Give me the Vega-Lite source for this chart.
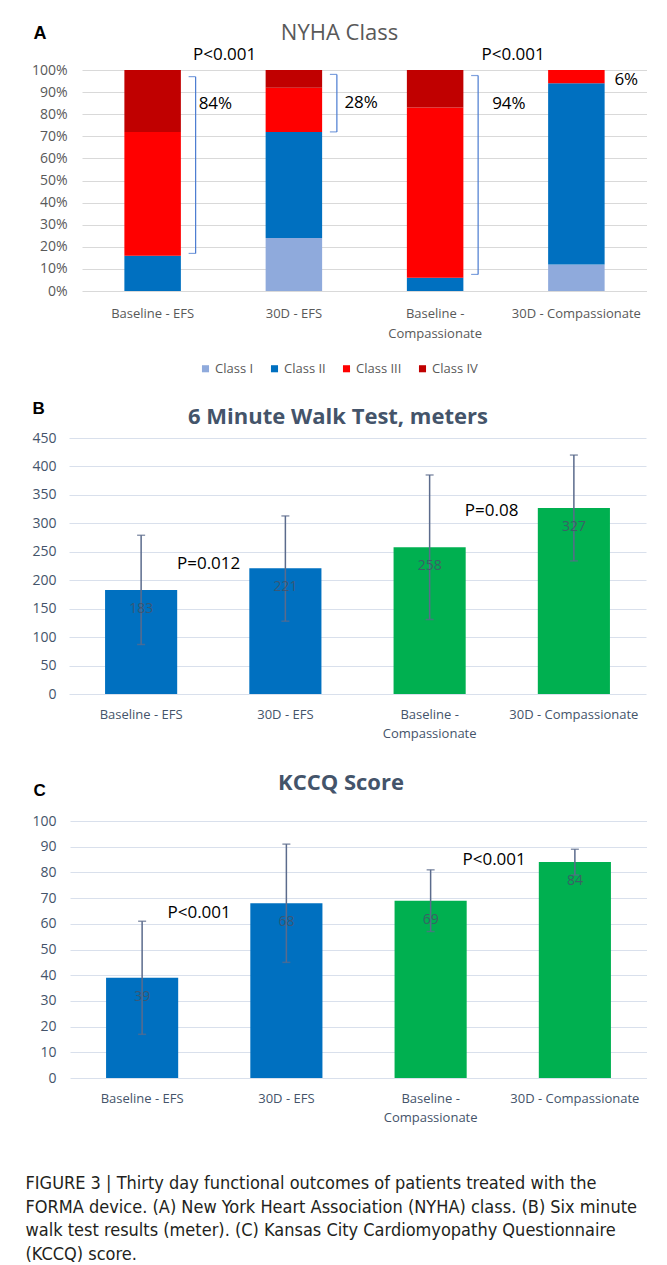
{
  "$schema": "https://vega.github.io/schema/vega-lite/v6.json",
  "background": "white",
  "padding": {"left": 25, "top": 22, "right": 0, "bottom": 0},
  "config": {
    "view": {"stroke": null},
    "font": "Open Sans",
    "axis": {
      "labelFont": "Open Sans",
      "labelColor": "#595959",
      "labelFontSize": 13,
      "ticks": false,
      "domain": false,
      "gridColor": "#D9D9D9",
      "titleFont": "Liberation Sans",
      "titleFontWeight": "bold",
      "titleColor": "#000000",
      "titleFontSize": 18,
      "titleAngle": 0,
      "titleAlign": "left",
      "titleBaseline": "middle"
    },
    "legend": {"layout": {"bottom": {"anchor": "middle"}}},
    "title": {"font": "Open Sans", "fontSize": 22, "fontWeight": "normal", "color": "#595959", "anchor": "middle"}
  },
  "resolve": {"scale": {"color": "independent"}, "legend": {"color": "independent"}},
  "datasets": {
    "nyha": [
      {"cat": "Baseline - EFS", "cls": "Class I", "k": 1, "pct": 0},
      {"cat": "Baseline - EFS", "cls": "Class II", "k": 2, "pct": 16},
      {"cat": "Baseline - EFS", "cls": "Class III", "k": 3, "pct": 56},
      {"cat": "Baseline - EFS", "cls": "Class IV", "k": 4, "pct": 28},
      {"cat": "30D - EFS", "cls": "Class I", "k": 1, "pct": 24},
      {"cat": "30D - EFS", "cls": "Class II", "k": 2, "pct": 48},
      {"cat": "30D - EFS", "cls": "Class III", "k": 3, "pct": 20},
      {"cat": "30D - EFS", "cls": "Class IV", "k": 4, "pct": 8},
      {"cat": "Baseline - Compassionate", "cls": "Class I", "k": 1, "pct": 0},
      {"cat": "Baseline - Compassionate", "cls": "Class II", "k": 2, "pct": 6},
      {"cat": "Baseline - Compassionate", "cls": "Class III", "k": 3, "pct": 77},
      {"cat": "Baseline - Compassionate", "cls": "Class IV", "k": 4, "pct": 17},
      {"cat": "30D - Compassionate", "cls": "Class I", "k": 1, "pct": 12},
      {"cat": "30D - Compassionate", "cls": "Class II", "k": 2, "pct": 82},
      {"cat": "30D - Compassionate", "cls": "Class III", "k": 3, "pct": 6},
      {"cat": "30D - Compassionate", "cls": "Class IV", "k": 4, "pct": 0}
    ],
    "brackets": [
      {"cat": "Baseline - EFS", "lo": 17, "hi": 97},
      {"cat": "30D - EFS", "lo": 72, "hi": 98},
      {"cat": "Baseline - Compassionate", "lo": 7.5, "hi": 97.5}
    ],
    "pctLabels": [
      {"cat": "Baseline - EFS", "y": 84.5, "label": "84%"},
      {"cat": "30D - EFS", "y": 85, "label": "28%"},
      {"cat": "Baseline - Compassionate", "y": 84.5, "label": "94%"},
      {"cat": "30D - Compassionate", "y": 95.5, "label": "6%"}
    ],
    "pA": [
      {"cat": "Baseline - EFS", "y": 107, "label": "P<0.001"},
      {"cat": "Baseline - Compassionate", "y": 107, "label": "P<0.001"}
    ],
    "walk": [
      {"cat": "Baseline - EFS", "grp": "EFS", "val": 183, "lo": 87, "hi": 279},
      {"cat": "30D - EFS", "grp": "EFS", "val": 221, "lo": 128, "hi": 313},
      {"cat": "Baseline - Compassionate", "grp": "Compassionate", "val": 258, "lo": 131, "hi": 385},
      {"cat": "30D - Compassionate", "grp": "Compassionate", "val": 327, "lo": 234, "hi": 420}
    ],
    "pB": [
      {"cat": "Baseline - EFS", "y": 228.5, "label": "P=0.012"},
      {"cat": "Baseline - Compassionate", "y": 321.7, "label": "P=0.08"}
    ],
    "kccq": [
      {"cat": "Baseline - EFS", "grp": "EFS", "val": 39, "lo": 17, "hi": 61},
      {"cat": "30D - EFS", "grp": "EFS", "val": 68, "lo": 45, "hi": 91},
      {"cat": "Baseline - Compassionate", "grp": "Compassionate", "val": 69, "lo": 57, "hi": 81},
      {"cat": "30D - Compassionate", "grp": "Compassionate", "val": 84, "lo": 79, "hi": 89}
    ],
    "pC": [
      {"cat": "Baseline - EFS", "y": 64.2, "label": "P<0.001"},
      {"cat": "Baseline - Compassionate", "y": 84.8, "label": "P<0.001"}
    ],
    "spacer": [{"s": ""}]
  },
  "title": {
    "text": [
      "FIGURE 3 | Thirty day functional outcomes of patients treated with the",
      "FORMA device. (A) New York Heart Association (NYHA) class. (B) Six minute",
      "walk test results (meter). (C) Kansas City Cardiomyopathy Questionnaire",
      "(KCCQ) score."
    ],
    "orient": "bottom",
    "anchor": "start",
    "frame": "bounds",
    "font": "DejaVu Sans Condensed, Roboto",
    "fontSize": 18,
    "fontWeight": "normal",
    "color": "#231F20",
    "lineHeight": 23.7,
    "offset": 51,
    "dx": -4.5
  },
  "spacing": 23,
  "vconcat": [
    {
      "spacing": 0,
      "hconcat": [
        {"width": 1, "height": 1, "data": {"name": "spacer"}, "mark": {"type": "text"}, "encoding": {"text": {"field": "s"}}},
        {
          "width": 565,
          "height": 221,
          "title": {"text": "NYHA Class", "dx": -25, "offset": -21},
          "layer": [
            {
              "data": {"name": "nyha"},
              "mark": {"type": "bar"},
              "encoding": {
                "x": {"field": "cat", "type": "nominal", "sort": null,
                  "scale": {"domain": ["Baseline - EFS", "30D - EFS", "Baseline - Compassionate", "30D - Compassionate"], "paddingInner": 0.6, "paddingOuter": 0.3},
                  "axis": {"title": null, "labelAngle": 0, "labelPadding": 16, "labelLineHeight": 20, "labelFontSize": 13, "labelExpr": "datum.value == 'Baseline - Compassionate' ? ['Baseline -', 'Compassionate'] : datum.value"}},
                "y": {"field": "pct", "type": "quantitative", "stack": "zero",
                  "scale": {"domain": [0, 100]},
                  "axis": {"title": "A", "titleX": -49, "titleY": -37, "values": [0, 10, 20, 30, 40, 50, 60, 70, 80, 90, 100], "labelExpr": "datum.value + '%'", "labelFontSize": 14, "labelPadding": 15, "gridColor": "#D9D9D9"}},
                "color": {"field": "cls", "type": "nominal",
                  "scale": {"domain": ["Class I", "Class II", "Class III", "Class IV"], "range": ["#8FAADC", "#0070C0", "#FF0000", "#C00000"]},
                  "legend": {"title": null, "orient": "bottom", "direction": "horizontal", "offset": 22, "symbolType": "square", "symbolSize": 50, "symbolStrokeWidth": 0, "labelFont": "Open Sans", "labelFontSize": 13, "labelColor": "#595959", "labelOffset": 3, "columnPadding": 14}},
                "order": {"field": "k", "type": "quantitative"}
              }
            },
            {
              "data": {"name": "brackets"},
              "mark": {"type": "rule", "color": "#4A7BD0", "strokeWidth": 1.2, "xOffset": 43},
              "encoding": {
                "x": {"field": "cat", "type": "nominal", "sort": null, "scale": {"domain": ["Baseline - EFS", "30D - EFS", "Baseline - Compassionate", "30D - Compassionate"]}},
                "y": {"field": "lo", "type": "quantitative", "axis": {"title": "A", "titleX": -49, "titleY": -37, "values": [0, 10, 20, 30, 40, 50, 60, 70, 80, 90, 100], "labelExpr": "datum.value + '%'", "labelFontSize": 14, "labelPadding": 15, "gridColor": "#D9D9D9"}},
                "y2": {"field": "hi"}
              }
            },
            {
              "data": {"name": "brackets"},
              "mark": {"type": "tick", "color": "#4A7BD0", "thickness": 1.2, "size": 7, "xOffset": 39.5},
              "encoding": {
                "x": {"field": "cat", "type": "nominal", "sort": null, "scale": {"domain": ["Baseline - EFS", "30D - EFS", "Baseline - Compassionate", "30D - Compassionate"]}},
                "y": {"field": "lo", "type": "quantitative", "axis": {"title": "A", "titleX": -49, "titleY": -37, "values": [0, 10, 20, 30, 40, 50, 60, 70, 80, 90, 100], "labelExpr": "datum.value + '%'", "labelFontSize": 14, "labelPadding": 15, "gridColor": "#D9D9D9"}}
              }
            },
            {
              "data": {"name": "brackets"},
              "mark": {"type": "tick", "color": "#4A7BD0", "thickness": 1.2, "size": 7, "xOffset": 39.5},
              "encoding": {
                "x": {"field": "cat", "type": "nominal", "sort": null, "scale": {"domain": ["Baseline - EFS", "30D - EFS", "Baseline - Compassionate", "30D - Compassionate"]}},
                "y": {"field": "hi", "type": "quantitative", "axis": {"title": "A", "titleX": -49, "titleY": -37, "values": [0, 10, 20, 30, 40, 50, 60, 70, 80, 90, 100], "labelExpr": "datum.value + '%'", "labelFontSize": 14, "labelPadding": 15, "gridColor": "#D9D9D9"}}
              }
            },
            {
              "data": {"name": "pctLabels"},
              "transform": [{"filter": "datum.label == '84%'"}],
              "mark": {"type": "text", "align": "left", "baseline": "middle", "dx": 46, "font": "Open Sans", "fontSize": 17, "color": "#000000"},
              "encoding": {
                "x": {"field": "cat", "type": "nominal", "sort": null, "scale": {"domain": ["Baseline - EFS", "30D - EFS", "Baseline - Compassionate", "30D - Compassionate"]}},
                "y": {"field": "y", "type": "quantitative", "axis": {"title": "A", "titleX": -49, "titleY": -37, "values": [0, 10, 20, 30, 40, 50, 60, 70, 80, 90, 100], "labelExpr": "datum.value + '%'", "labelFontSize": 14, "labelPadding": 15, "gridColor": "#D9D9D9"}},
                "text": {"field": "label"}
              }
            },
            {
              "data": {"name": "pctLabels"},
              "transform": [{"filter": "datum.label == '28%'"}],
              "mark": {"type": "text", "align": "left", "baseline": "middle", "dx": 50.5, "font": "Open Sans", "fontSize": 17, "color": "#000000"},
              "encoding": {
                "x": {"field": "cat", "type": "nominal", "sort": null, "scale": {"domain": ["Baseline - EFS", "30D - EFS", "Baseline - Compassionate", "30D - Compassionate"]}},
                "y": {"field": "y", "type": "quantitative", "axis": {"title": "A", "titleX": -49, "titleY": -37, "values": [0, 10, 20, 30, 40, 50, 60, 70, 80, 90, 100], "labelExpr": "datum.value + '%'", "labelFontSize": 14, "labelPadding": 15, "gridColor": "#D9D9D9"}},
                "text": {"field": "label"}
              }
            },
            {
              "data": {"name": "pctLabels"},
              "transform": [{"filter": "datum.label == '94%'"}],
              "mark": {"type": "text", "align": "left", "baseline": "middle", "dx": 57, "font": "Open Sans", "fontSize": 17, "color": "#000000"},
              "encoding": {
                "x": {"field": "cat", "type": "nominal", "sort": null, "scale": {"domain": ["Baseline - EFS", "30D - EFS", "Baseline - Compassionate", "30D - Compassionate"]}},
                "y": {"field": "y", "type": "quantitative", "axis": {"title": "A", "titleX": -49, "titleY": -37, "values": [0, 10, 20, 30, 40, 50, 60, 70, 80, 90, 100], "labelExpr": "datum.value + '%'", "labelFontSize": 14, "labelPadding": 15, "gridColor": "#D9D9D9"}},
                "text": {"field": "label"}
              }
            },
            {
              "data": {"name": "pctLabels"},
              "transform": [{"filter": "datum.label == '6%'"}],
              "mark": {"type": "text", "align": "left", "baseline": "middle", "dx": 38, "font": "Open Sans", "fontSize": 17, "color": "#000000"},
              "encoding": {
                "x": {"field": "cat", "type": "nominal", "sort": null, "scale": {"domain": ["Baseline - EFS", "30D - EFS", "Baseline - Compassionate", "30D - Compassionate"]}},
                "y": {"field": "y", "type": "quantitative", "axis": {"title": "A", "titleX": -49, "titleY": -37, "values": [0, 10, 20, 30, 40, 50, 60, 70, 80, 90, 100], "labelExpr": "datum.value + '%'", "labelFontSize": 14, "labelPadding": 15, "gridColor": "#D9D9D9"}},
                "text": {"field": "label"}
              }
            },
            {
              "data": {"name": "pA"},
              "transform": [{"filter": "datum.cat == 'Baseline - EFS'"}],
              "mark": {"type": "text", "align": "center", "baseline": "middle", "dx": 72, "font": "Open Sans", "fontSize": 17, "color": "#000000", "clip": false},
              "encoding": {
                "x": {"field": "cat", "type": "nominal", "sort": null, "scale": {"domain": ["Baseline - EFS", "30D - EFS", "Baseline - Compassionate", "30D - Compassionate"]}},
                "y": {"field": "y", "type": "quantitative", "axis": {"title": "A", "titleX": -49, "titleY": -37, "values": [0, 10, 20, 30, 40, 50, 60, 70, 80, 90, 100], "labelExpr": "datum.value + '%'", "labelFontSize": 14, "labelPadding": 15, "gridColor": "#D9D9D9"}},
                "text": {"field": "label"}
              }
            },
            {
              "data": {"name": "pA"},
              "transform": [{"filter": "datum.cat == 'Baseline - Compassionate'"}],
              "mark": {"type": "text", "align": "center", "baseline": "middle", "dx": 78, "font": "Open Sans", "fontSize": 17, "color": "#000000", "clip": false},
              "encoding": {
                "x": {"field": "cat", "type": "nominal", "sort": null, "scale": {"domain": ["Baseline - EFS", "30D - EFS", "Baseline - Compassionate", "30D - Compassionate"]}},
                "y": {"field": "y", "type": "quantitative", "axis": {"title": "A", "titleX": -49, "titleY": -37, "values": [0, 10, 20, 30, 40, 50, 60, 70, 80, 90, 100], "labelExpr": "datum.value + '%'", "labelFontSize": 14, "labelPadding": 15, "gridColor": "#D9D9D9"}},
                "text": {"field": "label"}
              }
            }
          ]
        }
      ]
    },
    {
      "spacing": 0,
      "hconcat": [
        {"width": 1, "height": 1, "data": {"name": "spacer"}, "mark": {"type": "text"}, "encoding": {"text": {"field": "s"}}},
        {
          "width": 577,
          "height": 256,
          "title": {"text": "6 Minute Walk Test, meters", "dx": -19.5, "offset": -30, "fontWeight": "bold", "color": "#44546A", "fontSize": 22},
          "layer": [
            {
              "data": {"name": "walk"},
              "mark": {"type": "bar"},
              "encoding": {
                "x": {"field": "cat", "type": "nominal", "sort": null,
                  "scale": {"domain": ["Baseline - EFS", "30D - EFS", "Baseline - Compassionate", "30D - Compassionate"], "paddingInner": 0.5, "paddingOuter": 0.25},
                  "axis": {"title": " ", "titleFontSize": 4, "titlePadding": 7, "labelAngle": 0, "labelPadding": 14, "labelLineHeight": 19, "labelFontSize": 13, "labelColor": "#44546A", "labelExpr": "datum.value == 'Baseline - Compassionate' ? ['Baseline -', 'Compassionate'] : datum.value"}},
                "y": {"field": "val", "type": "quantitative",
                  "scale": {"domain": [0, 450]},
                  "axis": {"title": "B", "titleX": -37, "titleY": -30, "titleFontSize": 17, "values": [0, 50, 100, 150, 200, 250, 300, 350, 400, 450], "labelFontSize": 14, "labelPadding": 13, "labelColor": "#44546A", "gridColor": "#D9E0EC"}},
                "color": {"field": "grp", "type": "nominal", "scale": {"domain": ["EFS", "Compassionate"], "range": ["#0070C0", "#00B050"]}, "legend": null}
              }
            },
            {
              "data": {"name": "walk"},
              "mark": {"type": "rule", "color": "#5B6B8C", "strokeWidth": 1.5},
              "encoding": {
                "x": {"field": "cat", "type": "nominal", "sort": null, "scale": {"domain": ["Baseline - EFS", "30D - EFS", "Baseline - Compassionate", "30D - Compassionate"]}},
                "y": {"field": "lo", "type": "quantitative", "axis": {"title": "B", "titleX": -37, "titleY": -30, "titleFontSize": 17, "values": [0, 50, 100, 150, 200, 250, 300, 350, 400, 450], "labelFontSize": 14, "labelPadding": 13, "labelColor": "#44546A", "gridColor": "#D9E0EC"}},
                "y2": {"field": "hi"}
              }
            },
            {
              "data": {"name": "walk"},
              "mark": {"type": "tick", "color": "#5B6B8C", "thickness": 1.5, "size": 8},
              "encoding": {
                "x": {"field": "cat", "type": "nominal", "sort": null, "scale": {"domain": ["Baseline - EFS", "30D - EFS", "Baseline - Compassionate", "30D - Compassionate"]}},
                "y": {"field": "lo", "type": "quantitative", "axis": {"title": "B", "titleX": -37, "titleY": -30, "titleFontSize": 17, "values": [0, 50, 100, 150, 200, 250, 300, 350, 400, 450], "labelFontSize": 14, "labelPadding": 13, "labelColor": "#44546A", "gridColor": "#D9E0EC"}}
              }
            },
            {
              "data": {"name": "walk"},
              "mark": {"type": "tick", "color": "#5B6B8C", "thickness": 1.5, "size": 8},
              "encoding": {
                "x": {"field": "cat", "type": "nominal", "sort": null, "scale": {"domain": ["Baseline - EFS", "30D - EFS", "Baseline - Compassionate", "30D - Compassionate"]}},
                "y": {"field": "hi", "type": "quantitative", "axis": {"title": "B", "titleX": -37, "titleY": -30, "titleFontSize": 17, "values": [0, 50, 100, 150, 200, 250, 300, 350, 400, 450], "labelFontSize": 14, "labelPadding": 13, "labelColor": "#44546A", "gridColor": "#D9E0EC"}}
              }
            },
            {
              "data": {"name": "walk"},
              "mark": {"type": "text", "baseline": "middle", "dy": 19, "font": "Open Sans", "fontSize": 14, "color": "#44546A", "opacity": 0.85},
              "encoding": {
                "x": {"field": "cat", "type": "nominal", "sort": null, "scale": {"domain": ["Baseline - EFS", "30D - EFS", "Baseline - Compassionate", "30D - Compassionate"]}},
                "y": {"field": "val", "type": "quantitative", "axis": {"title": "B", "titleX": -37, "titleY": -30, "titleFontSize": 17, "values": [0, 50, 100, 150, 200, 250, 300, 350, 400, 450], "labelFontSize": 14, "labelPadding": 13, "labelColor": "#44546A", "gridColor": "#D9E0EC"}},
                "text": {"field": "val"}
              }
            },
            {
              "data": {"name": "pB"},
              "transform": [{"filter": "datum.cat == 'Baseline - EFS'"}],
              "mark": {"type": "text", "align": "center", "baseline": "middle", "dx": 67.5, "font": "Open Sans", "fontSize": 17, "color": "#000000"},
              "encoding": {
                "x": {"field": "cat", "type": "nominal", "sort": null, "scale": {"domain": ["Baseline - EFS", "30D - EFS", "Baseline - Compassionate", "30D - Compassionate"]}},
                "y": {"field": "y", "type": "quantitative", "axis": {"title": "B", "titleX": -37, "titleY": -30, "titleFontSize": 17, "values": [0, 50, 100, 150, 200, 250, 300, 350, 400, 450], "labelFontSize": 14, "labelPadding": 13, "labelColor": "#44546A", "gridColor": "#D9E0EC"}},
                "text": {"field": "label"}
              }
            },
            {
              "data": {"name": "pB"},
              "transform": [{"filter": "datum.cat == 'Baseline - Compassionate'"}],
              "mark": {"type": "text", "align": "center", "baseline": "middle", "dx": 62, "font": "Open Sans", "fontSize": 17, "color": "#000000"},
              "encoding": {
                "x": {"field": "cat", "type": "nominal", "sort": null, "scale": {"domain": ["Baseline - EFS", "30D - EFS", "Baseline - Compassionate", "30D - Compassionate"]}},
                "y": {"field": "y", "type": "quantitative", "axis": {"title": "B", "titleX": -37, "titleY": -30, "titleFontSize": 17, "values": [0, 50, 100, 150, 200, 250, 300, 350, 400, 450], "labelFontSize": 14, "labelPadding": 13, "labelColor": "#44546A", "gridColor": "#D9E0EC"}},
                "text": {"field": "label"}
              }
            }
          ]
        }
      ]
    },
    {
      "spacing": 0,
      "hconcat": [
        {"width": 1, "height": 1, "data": {"name": "spacer"}, "mark": {"type": "text"}, "encoding": {"text": {"field": "s"}}},
        {
          "width": 577,
          "height": 257,
          "title": {"text": "KCCQ Score", "dx": -17.5, "offset": -14, "fontWeight": "bold", "color": "#44546A", "fontSize": 22},
          "layer": [
            {
              "data": {"name": "kccq"},
              "mark": {"type": "bar"},
              "encoding": {
                "x": {"field": "cat", "type": "nominal", "sort": null,
                  "scale": {"domain": ["Baseline - EFS", "30D - EFS", "Baseline - Compassionate", "30D - Compassionate"], "paddingInner": 0.5, "paddingOuter": 0.25},
                  "axis": {"title": null, "labelAngle": 0, "labelPadding": 14, "labelLineHeight": 19, "labelFontSize": 13, "labelColor": "#44546A", "labelExpr": "datum.value == 'Baseline - Compassionate' ? ['Baseline -', 'Compassionate'] : datum.value"}},
                "y": {"field": "val", "type": "quantitative",
                  "scale": {"domain": [0, 100]},
                  "axis": {"title": "C", "titleX": -37, "titleY": -31, "titleFontSize": 17, "values": [0, 10, 20, 30, 40, 50, 60, 70, 80, 90, 100], "labelFontSize": 14, "labelPadding": 14, "labelColor": "#44546A", "gridColor": "#D9E0EC"}},
                "color": {"field": "grp", "type": "nominal", "scale": {"domain": ["EFS", "Compassionate"], "range": ["#0070C0", "#00B050"]}, "legend": null}
              }
            },
            {
              "data": {"name": "kccq"},
              "mark": {"type": "rule", "color": "#5B6B8C", "strokeWidth": 1.5},
              "encoding": {
                "x": {"field": "cat", "type": "nominal", "sort": null, "scale": {"domain": ["Baseline - EFS", "30D - EFS", "Baseline - Compassionate", "30D - Compassionate"]}},
                "y": {"field": "lo", "type": "quantitative", "axis": {"title": "C", "titleX": -37, "titleY": -31, "titleFontSize": 17, "values": [0, 10, 20, 30, 40, 50, 60, 70, 80, 90, 100], "labelFontSize": 14, "labelPadding": 14, "labelColor": "#44546A", "gridColor": "#D9E0EC"}},
                "y2": {"field": "hi"}
              }
            },
            {
              "data": {"name": "kccq"},
              "mark": {"type": "tick", "color": "#5B6B8C", "thickness": 1.5, "size": 8},
              "encoding": {
                "x": {"field": "cat", "type": "nominal", "sort": null, "scale": {"domain": ["Baseline - EFS", "30D - EFS", "Baseline - Compassionate", "30D - Compassionate"]}},
                "y": {"field": "lo", "type": "quantitative", "axis": {"title": "C", "titleX": -37, "titleY": -31, "titleFontSize": 17, "values": [0, 10, 20, 30, 40, 50, 60, 70, 80, 90, 100], "labelFontSize": 14, "labelPadding": 14, "labelColor": "#44546A", "gridColor": "#D9E0EC"}}
              }
            },
            {
              "data": {"name": "kccq"},
              "mark": {"type": "tick", "color": "#5B6B8C", "thickness": 1.5, "size": 8},
              "encoding": {
                "x": {"field": "cat", "type": "nominal", "sort": null, "scale": {"domain": ["Baseline - EFS", "30D - EFS", "Baseline - Compassionate", "30D - Compassionate"]}},
                "y": {"field": "hi", "type": "quantitative", "axis": {"title": "C", "titleX": -37, "titleY": -31, "titleFontSize": 17, "values": [0, 10, 20, 30, 40, 50, 60, 70, 80, 90, 100], "labelFontSize": 14, "labelPadding": 14, "labelColor": "#44546A", "gridColor": "#D9E0EC"}}
              }
            },
            {
              "data": {"name": "kccq"},
              "mark": {"type": "text", "baseline": "middle", "dy": 19, "font": "Open Sans", "fontSize": 14, "color": "#44546A", "opacity": 0.85},
              "encoding": {
                "x": {"field": "cat", "type": "nominal", "sort": null, "scale": {"domain": ["Baseline - EFS", "30D - EFS", "Baseline - Compassionate", "30D - Compassionate"]}},
                "y": {"field": "val", "type": "quantitative", "axis": {"title": "C", "titleX": -37, "titleY": -31, "titleFontSize": 17, "values": [0, 10, 20, 30, 40, 50, 60, 70, 80, 90, 100], "labelFontSize": 14, "labelPadding": 14, "labelColor": "#44546A", "gridColor": "#D9E0EC"}},
                "text": {"field": "val"}
              }
            },
            {
              "data": {"name": "pC"},
              "transform": [{"filter": "datum.cat == 'Baseline - EFS'"}],
              "mark": {"type": "text", "align": "center", "baseline": "middle", "dx": 57, "font": "Open Sans", "fontSize": 17, "color": "#000000"},
              "encoding": {
                "x": {"field": "cat", "type": "nominal", "sort": null, "scale": {"domain": ["Baseline - EFS", "30D - EFS", "Baseline - Compassionate", "30D - Compassionate"]}},
                "y": {"field": "y", "type": "quantitative", "axis": {"title": "C", "titleX": -37, "titleY": -31, "titleFontSize": 17, "values": [0, 10, 20, 30, 40, 50, 60, 70, 80, 90, 100], "labelFontSize": 14, "labelPadding": 14, "labelColor": "#44546A", "gridColor": "#D9E0EC"}},
                "text": {"field": "label"}
              }
            },
            {
              "data": {"name": "pC"},
              "transform": [{"filter": "datum.cat == 'Baseline - Compassionate'"}],
              "mark": {"type": "text", "align": "center", "baseline": "middle", "dx": 63.5, "font": "Open Sans", "fontSize": 17, "color": "#000000"},
              "encoding": {
                "x": {"field": "cat", "type": "nominal", "sort": null, "scale": {"domain": ["Baseline - EFS", "30D - EFS", "Baseline - Compassionate", "30D - Compassionate"]}},
                "y": {"field": "y", "type": "quantitative", "axis": {"title": "C", "titleX": -37, "titleY": -31, "titleFontSize": 17, "values": [0, 10, 20, 30, 40, 50, 60, 70, 80, 90, 100], "labelFontSize": 14, "labelPadding": 14, "labelColor": "#44546A", "gridColor": "#D9E0EC"}},
                "text": {"field": "label"}
              }
            }
          ]
        }
      ]
    }
  ]
}
